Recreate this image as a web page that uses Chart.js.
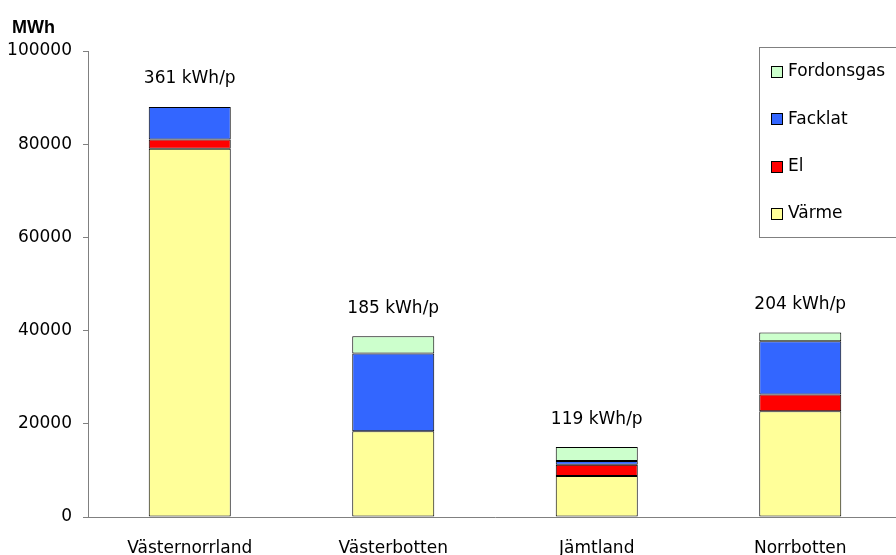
<!DOCTYPE html>
<html>
<head>
<meta charset="utf-8">
<script src="https://cdn.jsdelivr.net/npm/chart.js@4/dist/chart.umd.min.js"></script>
<style>
  html, body { margin: 0; padding: 0; background: #fff; overflow: hidden; }
  #wrap { width: 896px; height: 555px; position: relative; overflow: hidden; }
  #c { display: block; }
</style>
</head>
<body>
<div id="wrap"><canvas id="c" width="902" height="555"></canvas></div>
<script>
// Biogas use per county (MWh), stacked by end use
const regions = ['Västernorrland', 'Västerbotten', 'Jämtland', 'Norrbotten'];
const varme = [79000, 18400, 8800, 22700];
const el = [2000, 0, 2400, 3600];
const facklat = [7000, 16700, 800, 11400];
const fordonsgas = [0, 3700, 3000, 1900];
const perCapita = ['361 kWh/p', '185 kWh/p', '119 kWh/p', '204 kWh/p'];
const yTicks = [0, 20000, 40000, 60000, 80000, 100000];

const FONT = 'DejaVu Sans';
const AXIS = '#808080';

function series(label, data, color) {
  return {
    label, data,
    backgroundColor: color,
    borderColor: '#000',
    borderWidth: 1,
    borderSkipped: false,
    categoryPercentage: 1,
    barPercentage: 0.403
  };
}

// Per-capita labels above each stack, unit title and the boxed legend
const annotations = {
  id: 'annotations',
  afterDatasetsDraw(chart) {
    const { ctx, scales: { x, y } } = chart;
    ctx.save();
    ctx.fillStyle = '#000';
    ctx.font = `17px "${FONT}"`;
    ctx.textAlign = 'center';
    ctx.textBaseline = 'middle';
    regions.forEach((r, i) => {
      const total = chart.data.datasets.reduce((s, d) => s + (d.data[i] || 0), 0);
      ctx.fillText(perCapita[i], x.getPixelForValue(i), y.getPixelForValue(total) - 28);
    });

    ctx.font = 'bold 18px "Liberation Sans"';
    ctx.textAlign = 'left';
    ctx.textBaseline = 'alphabetic';
    ctx.fillText('MWh', 12, 33);

    // legend box
    const bx = 759.5, by = 47.5, bw = 160, bh = 190;
    ctx.fillStyle = '#fff';
    ctx.fillRect(bx, by, bw, bh);
    ctx.strokeStyle = AXIS;
    ctx.lineWidth = 1;
    ctx.strokeRect(bx, by, bw, bh);
    const items = chart.data.datasets.slice().reverse();
    ctx.font = `17px "${FONT}"`;
    ctx.textBaseline = 'middle';
    items.forEach((d, k) => {
      const cy = 72 + k * 47.3;
      ctx.fillStyle = d.backgroundColor;
      ctx.fillRect(771.5, Math.round(cy) - 5.5, 11, 11);
      ctx.strokeStyle = '#000';
      ctx.strokeRect(771.5, Math.round(cy) - 5.5, 11, 11);
      ctx.fillStyle = '#000';
      ctx.fillText(d.label, 788, cy);
    });
    ctx.restore();
  }
};

new Chart(document.getElementById('c'), {
  type: 'bar',
  data: {
    labels: regions,
    datasets: [
      series('Värme', varme, '#FFFF99'),
      series('El', el, '#FF0000'),
      series('Facklat', facklat, '#3366FF'),
      series('Fordonsgas', fordonsgas, '#CCFFCC')
    ]
  },
  options: {
    responsive: false,
    animation: false,
    devicePixelRatio: 1,
    layout: { padding: { top: 51, left: 0, right: 0, bottom: 0 } },
    plugins: {
      legend: { display: false },
      tooltip: { enabled: false },
      title: { display: false }
    },
    scales: {
      x: {
        stacked: true,
        grid: { display: false },
        border: { display: true, color: AXIS, width: 1 },
        ticks: { color: '#000', font: { family: FONT, size: 17 }, padding: 13, maxRotation: 0 },
        afterFit(s) { s.height = 38; }
      },
      y: {
        stacked: true,
        min: 0,
        max: 100000,
        afterBuildTicks(s) { s.ticks = yTicks.map(v => ({ value: v })); },
        grid: { display: true, drawOnChartArea: false, drawTicks: true, tickLength: 5, color: AXIS },
        border: { display: true, color: AXIS, width: 1 },
        ticks: { color: '#000', font: { family: FONT, size: 17 }, padding: 11, callback: v => String(v) },
        afterFit(s) { s.width = 88; }
      }
    }
  },
  plugins: [annotations]
});
</script>
</body>
</html>
